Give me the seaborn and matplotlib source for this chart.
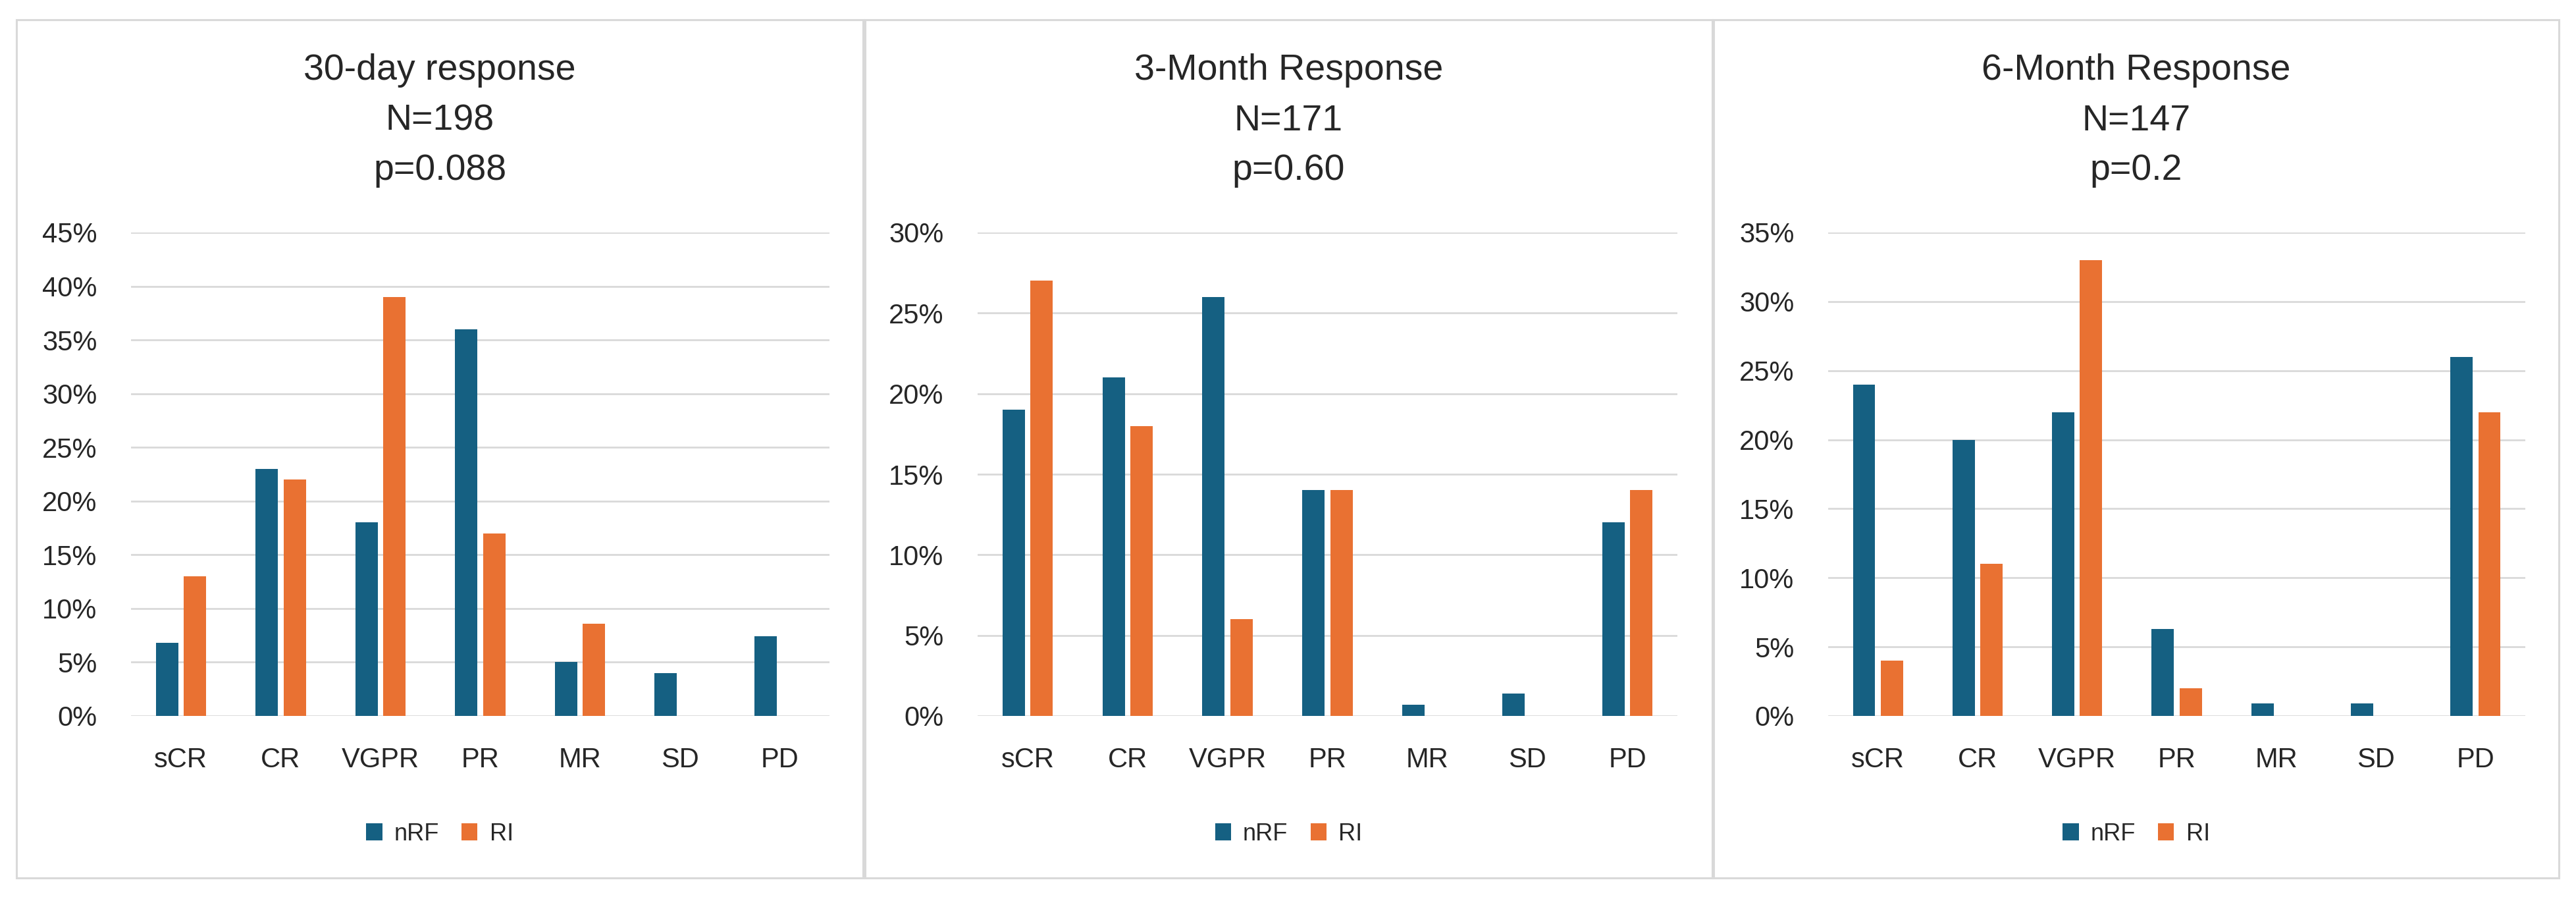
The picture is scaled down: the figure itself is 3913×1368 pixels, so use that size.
import pandas as pd
import numpy as np
import seaborn as sns
import matplotlib.pyplot as plt
from matplotlib.patches import Rectangle

# response categories and the two groups
categories = ["sCR", "CR", "VGPR", "PR", "MR", "SD", "PD"]
groups = ["nRF", "RI"]

# values (percent)
day30_nrf = [6.8, 23, 18, 36, 5, 4, 7.4]
day30_ri = [13, 22, 39, 17, 8.6, 0, 0]
month3_nrf = [19, 21, 26, 14, 0.7, 1.4, 12]
month3_ri = [27, 18, 6, 14, 0, 0, 14]
month6_nrf = [24, 20, 22, 6.3, 0.9, 0.9, 26]
month6_ri = [4, 11, 33, 2, 0, 0, 22]

titles = ["30-day response", "3-Month Response", "6-Month Response"]
n_labels = ["N=198", "N=171", "N=147"]
p_labels = ["p=0.088", "p=0.60", "p=0.2"]
y_max = [45, 30, 35]

colors = {"nRF": "#156082", "RI": "#E97132"}

sns.set_style("white")
plt.rcParams['font.family'] = ['Liberation Sans', 'DejaVu Sans']

W, H = 3913, 1368
fig = plt.figure(figsize=(W / 100, H / 100), dpi=100)

# pixel layout of the three chart boxes and their plot areas
panel_x = [(25, 1311), (1314, 2601), (2603, 3887)]
plot_x = [(199, 1260), (1485, 2548), (2777, 3836)]
plot_top, plot_bottom = 353, 1087

data = [(day30_nrf, day30_ri), (month3_nrf, month3_ri), (month6_nrf, month6_ri)]

for i, (nrf, ri) in enumerate(data):
    df = pd.DataFrame({
        "category": categories * 2,
        "group": ["nRF"] * len(categories) + ["RI"] * len(categories),
        "value": list(nrf) + list(ri),
    })

    # chart box border
    x0, x1 = panel_x[i]
    fig.patches.append(Rectangle((x0 / W, 1 - 1333 / H), (x1 - x0) / W, (1333 - 30) / H,
                                 transform=fig.transFigure, fill=False,
                                 edgecolor="#D9D9D9", linewidth=2.2, zorder=0))

    px0, px1 = plot_x[i]
    ax = fig.add_axes([px0 / W, 1 - plot_bottom / H, (px1 - px0) / W, (plot_bottom - plot_top) / H])
    sns.barplot(data=df, x="category", y="value", hue="group", hue_order=groups,
                palette=colors, saturation=1, width=0.56, gap=0.2, linewidth=0,
                ax=ax, legend=True)

    ax.set_ylim(0, y_max[i])
    ticks = np.arange(0, y_max[i] + 1, 5)
    ax.set_yticks(ticks)
    ax.set_yticklabels([f"{t}%" for t in ticks])
    ax.set_xlabel("")
    ax.set_ylabel("")
    ax.set_axisbelow(True)
    ax.yaxis.grid(True, color="#D9D9D9", linewidth=2)
    for s in ax.spines.values():
        s.set_visible(False)
    ax.tick_params(axis="y", length=0, pad=37, labelsize=30)
    ax.tick_params(axis="x", length=0, pad=34, labelsize=30)

    # titles centred on the chart box
    cx = (x0 + x1) / 2 / W
    fig.text(cx, 1 - 121 / H, titles[i], ha="center", va="baseline", fontsize=40)
    fig.text(cx, 1 - 198 / H, n_labels[i], ha="center", va="baseline", fontsize=40)
    fig.text(cx, 1 - 273 / H, p_labels[i], ha="center", va="baseline", fontsize=40)

    handles, labels = ax.get_legend_handles_labels()
    ax.legend(handles, labels, loc="center", bbox_to_anchor=(cx, 1 - 1266 / H),
              bbox_transform=fig.transFigure, ncol=2, frameon=False, fontsize=26,
              handlelength=0.67, handleheight=0.75, handletextpad=0.5, columnspacing=0.95)

fig.savefig("out.png", dpi=100, facecolor="white")
